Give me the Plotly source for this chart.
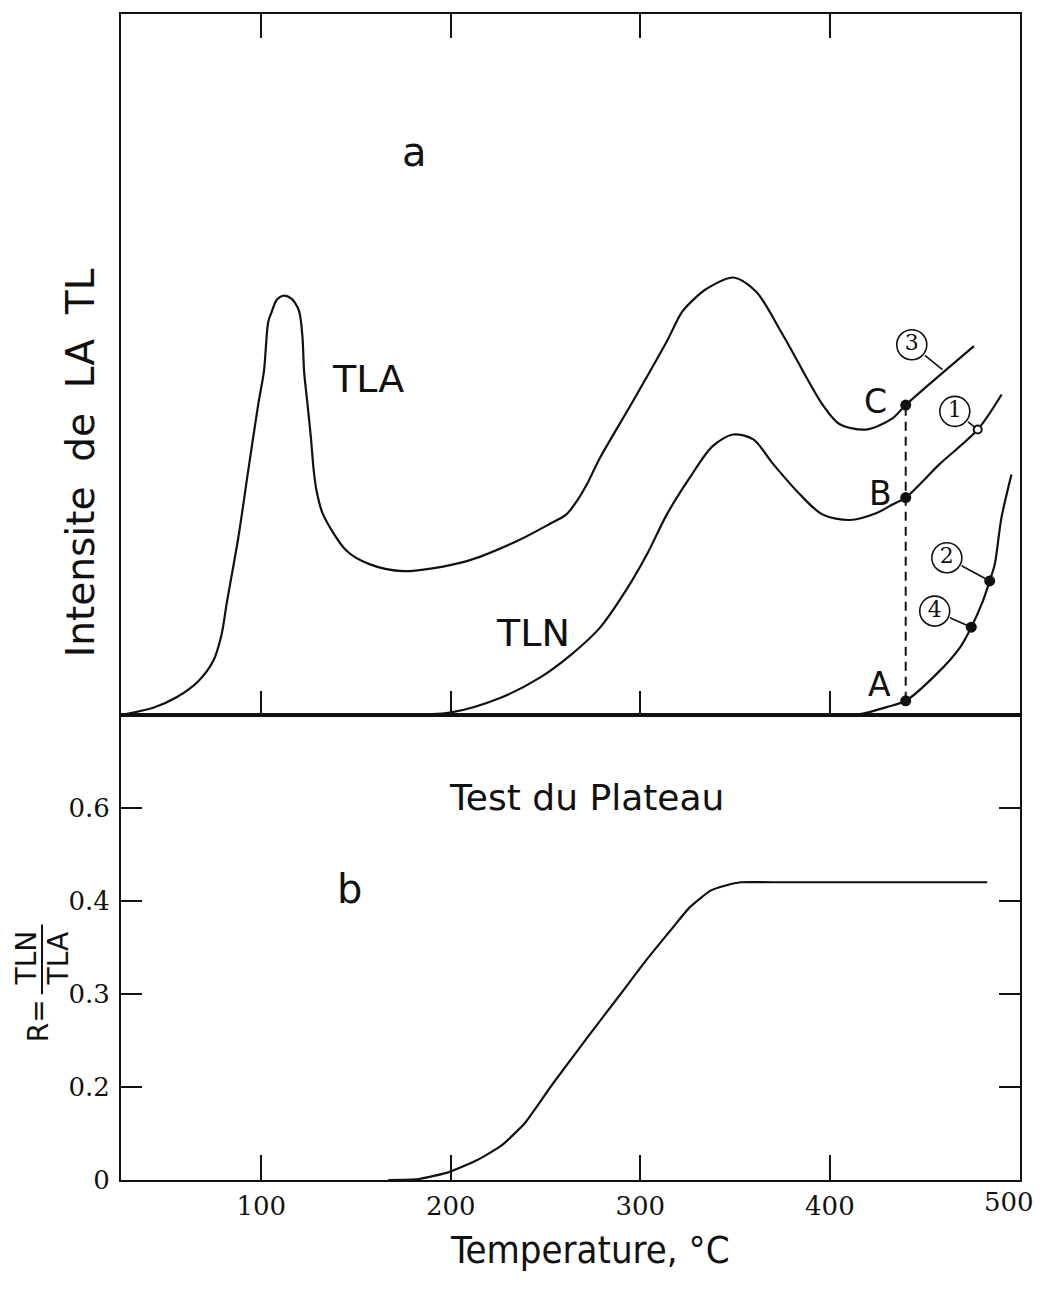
import numpy as np
import plotly.graph_objects as go

# ---------------- data ----------------
# panel a : TL intensity (arbitrary units, 0-100 = bottom-top of panel)
TLA_T = [26, 43, 55.3, 66.8, 74.7, 79.1, 81.7, 87.9, 93.1, 98.4, 101.4, 103.7, 105.5, 108.1,
         111.5, 115.9, 119.4, 120.4, 121.8, 122.6, 124.4, 126.2, 127.7, 129.2, 132.6, 145,
         157, 175, 208, 235, 252, 261, 266.5, 271.8, 278.6, 296, 314, 322, 329, 335, 349, 361,
         375, 396, 405, 419, 433, 440, 476]
TLA_I = [0, 1.0, 2.5, 4.8, 7.7, 11.5, 15.8, 25.3, 34.8, 44.3, 49, 56.1, 57.5, 59.2,
         59.8, 59.4, 58, 57.1, 53.7, 49, 44.3, 39.5, 34.8, 31.9, 28.6, 23.4,
         21.5, 20.5, 21.9, 24.8, 27.2, 28.6, 30.5, 32.9, 36.6, 44.7, 53.3, 57.5, 59.5, 60.8, 62.4, 60.4,
         54.3, 44.3, 41.5, 40.7, 42.3, 44.2, 52.6]

TLN_T = [173, 199.5, 226, 247, 264, 278.6, 293, 303.5, 314, 326, 338, 349, 359.6, 370,
         384, 396, 410.5, 424.7, 433, 440, 458, 478, 490.6]
TLN_I = [0, 0.3, 2.4, 5.3, 8.7, 12.4, 18, 22.9, 28.6, 33.8, 38.3, 40, 39.3, 35.8,
         31.5, 28.6, 27.8, 28.8, 30, 31, 35.8, 40.7, 45.7]

BG_T = [405, 416, 430, 440, 456.2, 468.6, 474.6, 480.8, 484.3, 487, 490.5, 495.8]
BG_I = [0, 0.1, 1.1, 2.0, 5.8, 9.6, 12.5, 16.3, 19.1, 21.5, 28.1, 34.3]

# marked points
PT_LABELS = ["A", "B", "C"]
PT_T = [440, 440, 440]
PT_I = [2.0, 31, 44.2]
NUM_PT_T = [484.3, 474.6]      # points 2 and 4
NUM_PT_I = [19.1, 12.5]
OPEN_PT_T = [478]              # point 1
OPEN_PT_I = [40.7]

# panel b : R = TLN/TLA
R_T = [167, 183, 199, 214, 227, 239, 254, 272, 290, 303, 317, 326, 337, 345, 353, 370, 483]
R_V = [0, 0.002, 0.017, 0.043, 0.075, 0.122, 0.204, 0.253, 0.301, 0.336, 0.371, 0.393,
       0.422, 0.433, 0.44, 0.44, 0.44]

R_TICKS = [0, 0.2, 0.3, 0.4, 0.6]      # printed ticks (equally spaced in the original)
R_TICK_TEXT = ["0", "0.2", "0.3", "0.4", "0.6"]
X_TICKS = [100, 200, 300, 400, 500]

# ---------------- figure ----------------
SANS = "DejaVu Sans"
SERIF = "DejaVu Serif"
BLACK = "#111111"

# the original R-axis is printed with equally spaced ticks 0,0.2,0.3,0.4,0.6
tick_pos = list(range(len(R_TICKS)))
R_pos = np.interp(R_V, R_TICKS, tick_pos)

fig = go.Figure()
line = dict(color=BLACK, width=2.2, shape="spline", smoothing=0.85)

fig.add_trace(go.Scatter(x=TLA_T, y=TLA_I, mode="lines", line=line, xaxis="x", yaxis="y"))
fig.add_trace(go.Scatter(x=TLN_T, y=TLN_I, mode="lines", line=line, xaxis="x", yaxis="y"))
fig.add_trace(go.Scatter(x=BG_T, y=BG_I, mode="lines", line=line, xaxis="x", yaxis="y"))

# dashed vertical A-C
fig.add_trace(go.Scatter(x=[PT_T[0], PT_T[2]], y=[PT_I[0], PT_I[2]], mode="lines",
                         line=dict(color=BLACK, width=2, dash="9px,6px"), xaxis="x", yaxis="y"))
fig.add_trace(go.Scatter(x=PT_T, y=PT_I, mode="markers",
                         marker=dict(color=BLACK, size=11), xaxis="x", yaxis="y"))
fig.add_trace(go.Scatter(x=NUM_PT_T, y=NUM_PT_I, mode="markers",
                         marker=dict(color=BLACK, size=11), xaxis="x", yaxis="y"))
fig.add_trace(go.Scatter(x=OPEN_PT_T, y=OPEN_PT_I, mode="markers",
                         marker=dict(color="white", size=8, line=dict(color=BLACK, width=2)),
                         xaxis="x", yaxis="y"))

# circled number labels (label position -> point)
circ = [("3", 443.2, 52.8, 460.6, 49.0),
        ("1", 465.9, 43.3, OPEN_PT_T[0], OPEN_PT_I[0]),
        ("2", 461.7, 22.4, NUM_PT_T[0], NUM_PT_I[0]),
        ("4", 455.3, 14.8, NUM_PT_T[1], NUM_PT_I[1])]
fig.add_trace(go.Scatter(x=[c[1] for c in circ], y=[c[2] for c in circ], mode="markers+text",
                         text=[c[0] for c in circ], textposition="middle center",
                         textfont=dict(family=SERIF, size=22, color=BLACK),
                         marker=dict(symbol="circle", size=30, color="white",
                                     line=dict(color=BLACK, width=1.6)),
                         xaxis="x", yaxis="y"))

# panel b curve
fig.add_trace(go.Scatter(x=R_T, y=R_pos, mode="lines",
                         line=dict(color=BLACK, width=2.2, shape="spline", smoothing=0.5),
                         xaxis="x2", yaxis="y2"))

annotations = []
for lab, cx, cy, px, py in circ:
    annotations.append(dict(x=px, y=py, ax=cx, ay=cy, xref="x", yref="y", axref="x", ayref="y",
                            text="", showarrow=True, arrowhead=0, arrowwidth=1.6,
                            arrowcolor=BLACK, startstandoff=15, standoff=3))

def txt(x, y, s, size, xref="x", yref="y", family=SANS, angle=0):
    annotations.append(dict(x=x, y=y, xref=xref, yref=yref, text=s, showarrow=False,
                            font=dict(family=family, size=size, color=BLACK),
                            textangle=angle, xanchor="center", yanchor="middle"))

txt(181, 80.3, "a", 40)
txt(156.3, 47.9, "TLA", 38)
txt(243.3, 11.7, "TLN", 38)
txt(424.2, 44.7, "C", 33)
txt(426.8, 31.6, "B", 33)
txt(426.3, 4.3, "A", 33)
txt(271.8, 4.11, "Test du Plateau", 36, "x2", "y2")
txt(146.8, 3.13, "b", 40, "x2", "y2")

# last x tick label ("500") sits at the right frame; drawn as a text pulled slightly inward
annotations.append(dict(x=X_TICKS[-1], y=0, xref="x2", yref="paper", text=str(X_TICKS[-1]),
                        showarrow=False, xanchor="center", yanchor="top", xshift=-10, yshift=-5,
                        font=dict(family=SERIF, size=26, color=BLACK)))

# axis titles (as paper annotations); positions in page pixels
W_PLOT = 899.0
H_PLOT = 1168.0
def px2paper(px, py):
    return (px - 121) / W_PLOT, (1180 - py) / H_PLOT

x0, y0 = px2paper(80, 462)
txt(x0, y0, "Intensite  de  LA  TL", 39, "paper", "paper", angle=-90)
x0, y0 = px2paper(590, 1250)
txt(x0, y0, "Temperature, °C", 38, "paper", "paper",
    family="DejaVu Sans Condensed, Liberation Sans Narrow, DejaVu Sans")
x0, y0 = px2paper(38, 1021)
txt(x0, y0, "R=", 28, "paper", "paper", angle=-90)
x0, y0 = px2paper(26, 958)
txt(x0, y0, "TLN", 28, "paper", "paper", angle=-90)
x0, y0 = px2paper(58, 958)
txt(x0, y0, "TLA", 28, "paper", "paper", angle=-90)

bx, by0 = px2paper(42, 924)
_, by1 = px2paper(42, 994)
shapes = [dict(type="line", xref="paper", yref="paper", x0=bx, x1=bx, y0=by0, y1=by1,
               line=dict(color=BLACK, width=2))]

split = (1180 - 714) / H_PLOT
axis_common = dict(showgrid=False, zeroline=False, showline=True, linecolor=BLACK,
                   linewidth=2, tickcolor=BLACK, tickwidth=2)

# page body has an 8px margin, so the plot margins are reduced accordingly
fig.update_layout(
    width=1045, height=1291,
    margin=dict(l=113, r=33, t=4, b=119),
    paper_bgcolor="white", plot_bgcolor="white",
    showlegend=False,
    xaxis=dict(domain=[0, 1], anchor="y", range=[26, 500.3], tickvals=X_TICKS[:-1],
               ticks="inside", ticklen=24, showticklabels=False, mirror="ticks", **axis_common),
    yaxis=dict(domain=[split, 1], anchor="x", range=[0, 100], showticklabels=False,
               ticks="", mirror=True, **axis_common),
    xaxis2=dict(domain=[0, 1], anchor="y2", range=[26, 500.3], tickvals=X_TICKS[:-1],
                ticktext=[str(v) for v in X_TICKS[:-1]], ticks="inside", ticklen=25,
                tickfont=dict(family=SERIF, size=26, color=BLACK), ticklabelstandoff=2,
                mirror=True, **axis_common),
    yaxis2=dict(domain=[0, split], anchor="x2", range=[0, 5.0], tickvals=tick_pos,
                ticktext=R_TICK_TEXT, ticks="inside", ticklen=21, mirror="ticks",
                tickfont=dict(family=SERIF, size=26, color=BLACK), ticklabelstandoff=4,
                **axis_common),
    annotations=annotations,
    shapes=shapes,
)

fig.write_html("out.html")
